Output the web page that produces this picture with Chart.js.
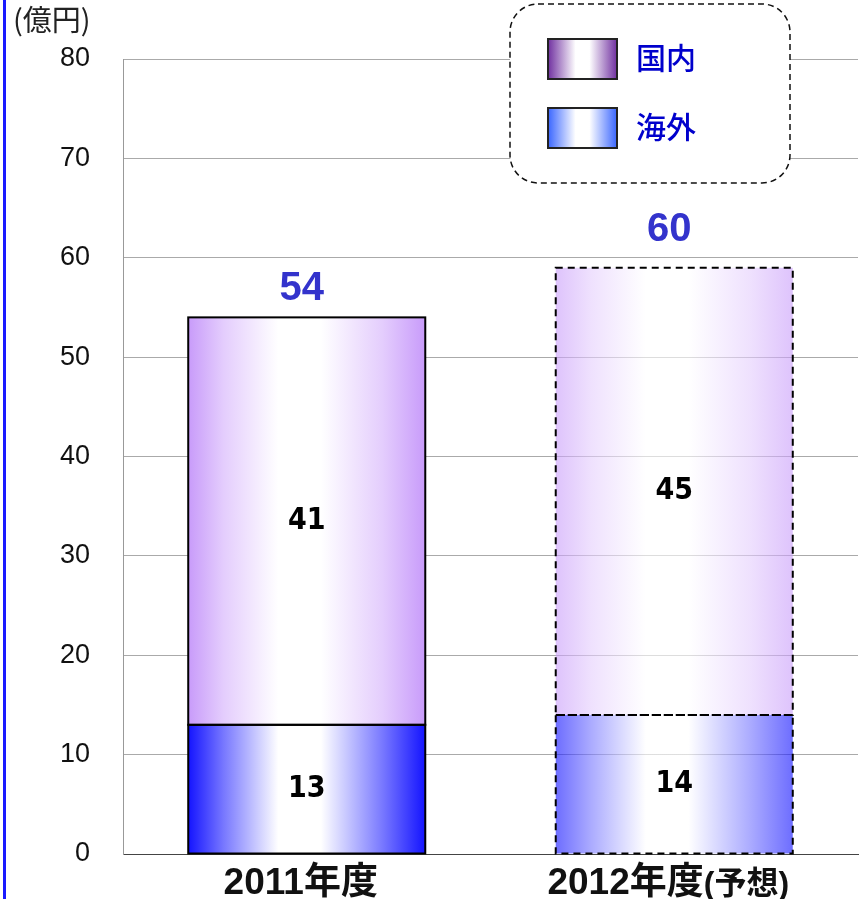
<!DOCTYPE html>
<html><head><meta charset="utf-8">
<script src="https://cdn.jsdelivr.net/npm/chart.js@4.4.0/dist/chart.umd.min.js"></script>
<style>html,body{margin:0;padding:0;background:#fff;}#wrap{width:862px;height:899px;}</style>
</head><body><div id="wrap"><canvas id="c" width="862" height="899"></canvas></div>
<script>
const categories = ['2011年度', '2012年度'];
const categoryNotes = ['', '(予想)'];
const seriesNames = ['国内', '海外'];
const domestic = [41, 45];
const overseas = [13, 14];
const totals = [54, 60];
const yTicks = [0, 10, 20, 30, 40, 50, 60, 70, 80];
const unitLabel = '(億円)';

const BAR_PCT = 0.645;
const LATIN = "'Liberation Sans', Arial, 'Noto Sans CJK JP', sans-serif";
const NARROW = "'Liberation Sans Narrow', 'DejaVu Sans Condensed', 'Liberation Sans', sans-serif";
const CJK = "'Noto Sans CJK JP', sans-serif";

const domesticEdge = ['rgb(200,155,250)', 'rgba(200,155,250,0.6)'];
const domesticSoft = ['rgb(228,205,253)', 'rgba(228,205,253,0.6)'];
const domesticMid = ['rgb(255,255,255)', 'rgba(255,255,255,0.6)'];
const overseasEdge = ['rgb(20,20,255)', 'rgba(20,20,255,0.62)'];
const overseasSoft = ['rgb(120,120,255)', 'rgba(120,120,255,0.62)'];
const overseasMid = ['rgb(255,255,255)', 'rgba(255,255,255,0.62)'];

function barGradient(edges, softs, mids) {
  return function (ctx) {
    const chart = ctx.chart;
    const i = ctx.dataIndex;
    const xs = chart.scales.x;
    if (i === undefined || !xs || !chart.chartArea) return edges[0];
    const c = xs.getPixelForValue(i);
    const half = (xs.width / categories.length) * BAR_PCT / 2;
    const g = chart.ctx.createLinearGradient(c - half, 0, c + half, 0);
    const e = edges[i], s = softs[i], m = mids[i];
    g.addColorStop(0, e);
    g.addColorStop(0.15, s);
    g.addColorStop(0.38, m);
    g.addColorStop(0.56, m);
    g.addColorStop(0.82, s);
    g.addColorStop(1, e);
    return g;
  };
}

const decoPlugin = {
  id: 'deco',
  beforeDraw(chart) {
    const ctx = chart.ctx;
    ctx.save();
    ctx.fillStyle = '#fff';
    ctx.fillRect(0, 0, chart.width, chart.height);
    ctx.fillStyle = '#1a1aff';
    ctx.fillRect(3, 0, 3, chart.height);
    ctx.fillStyle = '#222';
    ctx.font = "29px " + CJK;
    ctx.textBaseline = 'middle';
    ctx.textAlign = 'left';
    ctx.fillText(unitLabel, 13, 20);
    ctx.restore();
  },
  afterDatasetsDraw(chart) {
    const ctx = chart.ctx;
    const ys = chart.scales.y, xs = chart.scales.x;
    ctx.save();
    chart.data.datasets.forEach((ds, di) => {
      const meta = chart.getDatasetMeta(di);
      meta.data.forEach((el, i) => {
        const p = el.getProps(['x', 'y', 'base', 'width'], true);
        ctx.lineWidth = 2;
        ctx.strokeStyle = '#000';
        ctx.setLineDash(i === 1 ? [7, 5] : []);
        ctx.strokeRect(p.x - p.width / 2, p.y, p.width, p.base - p.y);
      });
    });
    ctx.setLineDash([]);
    ctx.textAlign = 'center';
    ctx.textBaseline = 'middle';
    ctx.fillStyle = '#000';
    ctx.font = "bold 30px " + NARROW;
    chart.data.datasets.forEach((ds, di) => {
      const meta = chart.getDatasetMeta(di);
      meta.data.forEach((el, i) => {
        const p = el.getProps(['x', 'y', 'base'], true);
        ctx.fillText(String(ds.data[i]), p.x, (p.y + p.base) / 2);
      });
    });
    ctx.fillStyle = '#3333cc';
    ctx.font = "bold 40px " + LATIN;
    totals.forEach((t, i) => {
      ctx.fillText(String(t), xs.getPixelForValue(i) - 5, ys.getPixelForValue(t) - 28);
    });
    ctx.restore();
  },
  afterDraw(chart) {
    const ctx = chart.ctx;
    const xs = chart.scales.x;
    ctx.save();
    ctx.fillStyle = '#111';
    ctx.textBaseline = 'alphabetic';
    ctx.textAlign = 'left';
    categories.forEach((lab, i) => {
      const mainFont = "bold 37px " + LATIN;
      const noteFont = "bold 32px " + LATIN;
      ctx.font = mainFont;
      const w1 = ctx.measureText(lab).width;
      ctx.font = noteFont;
      const w2 = categoryNotes[i] ? ctx.measureText(categoryNotes[i]).width : 0;
      const x0 = xs.getPixelForValue(i) - (w1 + w2) / 2 - 6;
      ctx.font = mainFont;
      ctx.fillText(lab, x0, 894);
      if (categoryNotes[i]) {
        ctx.font = noteFont;
        ctx.fillText(categoryNotes[i], x0 + w1, 894);
      }
    });
    const bx = 510, by = 4, bw = 280, bh = 179, r = 28;
    ctx.beginPath();
    ctx.moveTo(bx + r, by);
    ctx.arcTo(bx + bw, by, bx + bw, by + bh, r);
    ctx.arcTo(bx + bw, by + bh, bx, by + bh, r);
    ctx.arcTo(bx, by + bh, bx, by, r);
    ctx.arcTo(bx, by, bx + bw, by, r);
    ctx.closePath();
    ctx.fillStyle = '#fff';
    ctx.fill();
    ctx.lineWidth = 1.5;
    ctx.strokeStyle = '#111';
    ctx.setLineDash([6, 4]);
    ctx.stroke();
    ctx.setLineDash([]);
    const sw = [
      { y: 39, edge: '#7030a0' },
      { y: 108, edge: '#3a66ff' }
    ];
    seriesNames.forEach((name, k) => {
      const sx = 548, sy = sw[k].y, w = 69, h = 40;
      const g = ctx.createLinearGradient(sx, 0, sx + w, 0);
      g.addColorStop(0, sw[k].edge);
      g.addColorStop(0.4, '#fff');
      g.addColorStop(0.6, '#fff');
      g.addColorStop(1, sw[k].edge);
      ctx.fillStyle = g;
      ctx.fillRect(sx, sy, w, h);
      ctx.lineWidth = 2;
      ctx.strokeStyle = '#222';
      ctx.strokeRect(sx, sy, w, h);
      ctx.fillStyle = '#0000cc';
      ctx.font = "500 30px " + CJK;
      ctx.textBaseline = 'middle';
      ctx.fillText(name, 636, sy + h / 2 - 1);
    });
    ctx.restore();
  }
};

new Chart(document.getElementById('c'), {
  type: 'bar',
  data: {
    labels: categories,
    datasets: [
      { label: seriesNames[1], data: overseas,
        backgroundColor: barGradient(overseasEdge, overseasSoft, overseasMid), borderWidth: 0 },
      { label: seriesNames[0], data: domestic,
        backgroundColor: barGradient(domesticEdge, domesticSoft, domesticMid), borderWidth: 0 }
    ]
  },
  options: {
    responsive: false,
    animation: false,
    devicePixelRatio: 1,
    layout: { padding: { left: 0, right: 4, top: 59, bottom: 0 } },
    plugins: { legend: { display: false }, tooltip: { enabled: false } },
    datasets: { bar: { barPercentage: BAR_PCT, categoryPercentage: 1 } },
    scales: {
      x: {
        stacked: true,
        ticks: { display: false },
        grid: { display: false },
        border: { display: true, color: '#444', width: 1 },
        afterFit: s => { s.height = 45; }
      },
      y: {
        stacked: true,
        min: 0, max: 80,
        afterBuildTicks: s => { s.ticks = yTicks.map(v => ({ value: v })); },
        ticks: { font: { family: LATIN, size: 27 }, color: '#111', padding: 3 },
        grid: {
          drawTicks: true,
          tickLength: 30,
          tickColor: 'rgba(0,0,0,0)',
          color: c => (c.tick && c.tick.value === 0) ? '#444' : '#aaa',
          lineWidth: 1
        },
        border: { display: true, color: '#999', width: 1 },
        afterFit: s => { s.width = 123; }
      }
    }
  },
  plugins: [decoPlugin]
});
</script>
</body></html>
